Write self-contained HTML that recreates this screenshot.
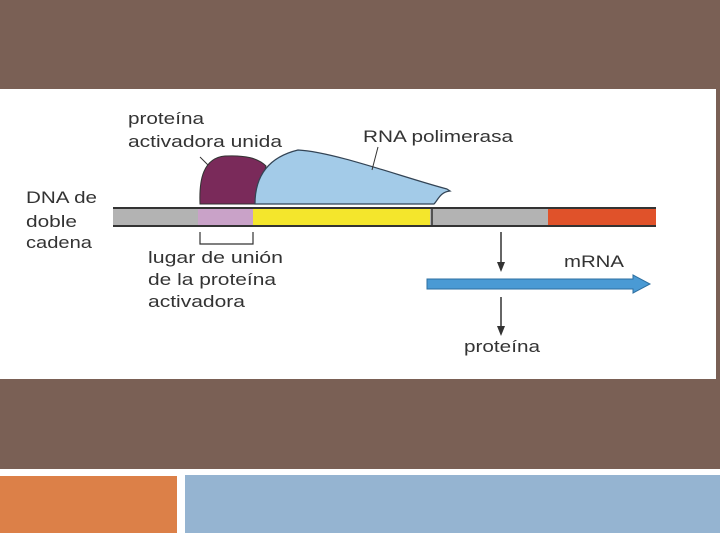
<!DOCTYPE html><html><head><style>body{margin:0;width:720px;height:540px;background:#fff;overflow:hidden}</style></head><body>
<svg width="720" height="540" xmlns="http://www.w3.org/2000/svg" font-family="Liberation Sans, sans-serif" font-size="17" fill="#333">
<rect width="720" height="540" fill="#fff"/>
<rect x="0" y="0" width="720" height="469" fill="#7a6055"/>
<rect x="0" y="89" width="716" height="290" fill="#fff"/>
<rect x="0" y="476" width="177" height="57" fill="#dc8048"/>
<rect x="185" y="475" width="535" height="58" fill="#95b4d1"/>
<!-- DNA -->
<rect x="113" y="208" width="85" height="18" fill="#b3b3b3"/>
<rect x="198" y="208" width="55" height="18" fill="#c9a2c8"/>
<rect x="253" y="208" width="177" height="18" fill="#f4e62c"/>
<rect x="430" y="208" width="118" height="18" fill="#b3b3b3"/>
<rect x="548" y="208" width="108" height="18" fill="#e0522a"/>
<line x1="113" y1="208" x2="656" y2="208" stroke="#333" stroke-width="2"/>
<line x1="113" y1="226" x2="656" y2="226" stroke="#333" stroke-width="2"/>
<line x1="432" y1="208" x2="432" y2="226" stroke="#333" stroke-width="1.5"/>
<!-- proteins -->
<path d="M200 204 C199 180 203 158 225 156 C245 155 258 158 266 166 L256 204 Z" fill="#7a2a5a" stroke="#333" stroke-width="1"/>
<path d="M255 204 C255 180 265 158 298 150 C335 152 405 178 447 189 L450 191 C440 192 438 200 434 204 Z" fill="#a3cbe8" stroke="#345" stroke-width="1.2"/>
<line x1="200" y1="157" x2="208" y2="165" stroke="#333"/>
<line x1="378" y1="147" x2="372" y2="170" stroke="#333"/>
<!-- bracket -->
<path d="M200 232 V244 H253 V232" fill="none" stroke="#333" stroke-width="1.2"/>
<!-- arrows -->
<line x1="501" y1="232" x2="501" y2="268" stroke="#333" stroke-width="1.5"/>
<path d="M497 262 L501 272 L505 262 Z" fill="#333"/>
<line x1="501" y1="297" x2="501" y2="332" stroke="#333" stroke-width="1.5"/>
<path d="M497 326 L501 336 L505 326 Z" fill="#333"/>
<path d="M427 279 H633 V275 L650 284 L633 293 V289 H427 Z" fill="#4a9ad4" stroke="#2d6fa0" stroke-width="1"/>
<!-- text -->
<text x="128" y="124" textLength="76" lengthAdjust="spacingAndGlyphs">proteína</text>
<text x="128" y="147" textLength="154" lengthAdjust="spacingAndGlyphs">activadora unida</text>
<text x="363" y="142" textLength="150" lengthAdjust="spacingAndGlyphs">RNA polimerasa</text>
<text x="26" y="203" textLength="71" lengthAdjust="spacingAndGlyphs">DNA de</text>
<text x="26" y="227" textLength="51" lengthAdjust="spacingAndGlyphs">doble</text>
<text x="26" y="248" textLength="66" lengthAdjust="spacingAndGlyphs">cadena</text>
<text x="148" y="263" textLength="135" lengthAdjust="spacingAndGlyphs">lugar de unión</text>
<text x="148" y="285" textLength="128" lengthAdjust="spacingAndGlyphs">de la proteína</text>
<text x="148" y="307" textLength="97" lengthAdjust="spacingAndGlyphs">activadora</text>
<text x="564" y="267" textLength="60" lengthAdjust="spacingAndGlyphs">mRNA</text>
<text x="464" y="352" textLength="76" lengthAdjust="spacingAndGlyphs">proteína</text>
</svg>
</body></html>
